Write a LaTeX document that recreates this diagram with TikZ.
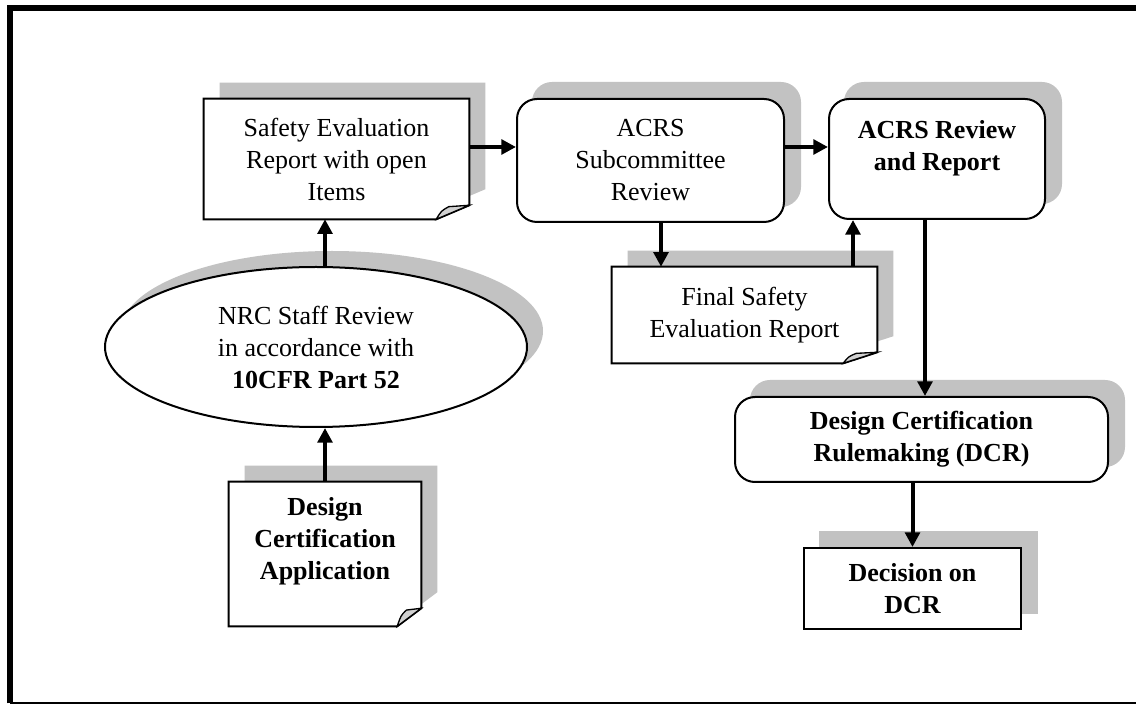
\documentclass[tikz,border=0pt]{standalone}
\usepackage{fontspec}
\setmainfont{Liberation Serif}
\usetikzlibrary{arrows.meta,shapes.geometric,calc}
\pgfdeclarelayer{paper}
\pgfdeclarelayer{shadow}
\pgfdeclarelayer{bg}
\pgfsetlayers{paper,shadow,bg,main}
\definecolor{shadowc}{gray}{0.76}
\definecolor{flapc}{gray}{0.82}
\tikzset{
  shape line/.style={line width=1.5pt},
  docnode/.style={rectangle, draw=none, inner sep=0pt, align=center},
  roundbox/.style={rectangle, rounded corners=15pt, draw, shape line, fill=white, inner sep=0pt, align=center},
  plainbox/.style={rectangle, draw, shape line, fill=white, inner sep=0pt, align=center},
  ovalbox/.style={ellipse, draw, shape line, fill=white, inner sep=0pt, align=center},
  txt/.style={inner sep=0pt, align=center},
  arr/.style={line width=3pt, -{Triangle[length=11pt,width=11pt]}},
}
\newcommand\docshape[3]{%
  \begin{pgfonlayer}{shadow}
    \fill[shadowc] ($(#1.north west)+(16,-16)$) -- ($(#1.north east)+(16,-16)$)
      -- ($(#1.south east)+(16,-16-#3)$) -- ($(#1.south east)+(16-#2,-16)$)
      -- ($(#1.south west)+(16,-16)$) -- cycle;
  \end{pgfonlayer}
  \begin{pgfonlayer}{bg}
    \filldraw[shape line, fill=white, line join=miter] (#1.north west) -- (#1.north east)
      -- ($(#1.south east)+(0,-#3)$) -- ($(#1.south east)+(-#2,0)$)
      -- (#1.south west) -- cycle;
    \filldraw[line width=1pt, fill=flapc] ($(#1.south east)+(-#2,0)$)
      .. controls ($(#1.south east)+(-0.85*#2,-0.6*#3)$) .. ($(#1.south east)+(-0.62*#2,-0.9*#3)$)
      -- ($(#1.south east)+(0,-#3)$) -- cycle;
  \end{pgfonlayer}
}
\newcommand\boxshadow[2]{%
  \begin{pgfonlayer}{shadow}
    \fill[shadowc, #2] ($(#1.south west)+(16,-16)$) rectangle ($(#1.north east)+(16,-16)$);
  \end{pgfonlayer}
}
\begin{document}
\begin{tikzpicture}[x=0.75pt, y=-0.75pt, font=\fontsize{19.5}{24}\selectfont]
\useasboundingbox (0,0) rectangle (1136,705);
\begin{pgfonlayer}{paper}
  \fill[white] (0,0) rectangle (1136,705);
\end{pgfonlayer}
% frame
\draw[line width=4.5pt] (9.5,703.5) -- (9.5,8) -- (1136,8);
\draw[line width=1.5pt] (9.5,703.5) -- (1136,703.5);

% nodes
\node[docnode, minimum width=198.75pt, minimum height=90pt] (ser) at (336.5,159)
  {Safety Evaluation\\Report with open\\Items};
\node[roundbox, minimum width=200.25pt, minimum height=92.25pt] (acrss) at (650.5,160.5)
  {ACRS\\Subcommittee\\Review};
\node[roundbox, minimum width=162pt, minimum height=90pt] (acrsr) at (937,159) {};
\node[txt, font=\fontsize{19.5}{24}\selectfont\bfseries] (acrsrT) at (937,148.5)
  {ACRS Review\\and Report};
\node[docnode, minimum width=198.75pt, minimum height=72pt] (fser) at (744.5,315)
  {Final Safety\\Evaluation Report};
\node[ovalbox, minimum width=316.5pt, minimum height=120pt] (nrc) at (316,347)
  {NRC Staff Review\\in accordance with\\\textbf{10CFR Part 52}};
\node[docnode, minimum width=144pt, minimum height=108pt] (dca) at (325,554) {};
\node[txt, font=\fontsize{19.5}{24}\selectfont\bfseries] (dcaT) at (325,541)
  {Design\\Certification\\Application};
\node[roundbox, minimum width=279.75pt, minimum height=63.75pt,
  font=\fontsize{19.5}{24}\selectfont\bfseries] (dcr) at (921.5,439.5)
  {Design Certification\\Rulemaking (DCR)};
\node[plainbox, minimum width=162.75pt, minimum height=60.75pt,
  font=\fontsize{19.5}{24}\selectfont\bfseries] (dec) at (912.5,588.5)
  {Decision on\\DCR};

% shapes and shadows
\docshape{ser}{33}{14}
\docshape{fser}{34}{11}
\docshape{dca}{24}{18}
\boxshadow{acrss}{rounded corners=15pt}
\boxshadow{acrsr}{rounded corners=15pt}
\boxshadow{dcr}{rounded corners=15pt}
\boxshadow{dec}{}
\begin{pgfonlayer}{shadow}
  \fill[shadowc] ($(nrc.center)+(16,-16)$) ellipse [x radius=211, y radius=80];
\end{pgfonlayer}

% connectors
\draw[arr] (dca.north) -- (dca.north |- nrc.south);
\draw[arr] (nrc.north -| dca.north) -- (ser.south -| dca.north);
\draw[arr] ($(ser.east)+(0,-12)$) coordinate (a1) -- (a1 -| acrss.west);
\draw[arr] ($(acrss.east)+(0,-13.5)$) coordinate (a2) -- (a2 -| acrsr.west);
\draw[arr] ($(acrss.south)+(10.5,0)$) coordinate (a3) -- (a3 |- fser.north);
\draw[arr] ($(fser.north)+(108.5,0)$) coordinate (a4) -- (a4 |- acrsr.south);
\draw[arr] ($(acrsr.south)+(-12,0)$) coordinate (a5) -- (a5 |- dcr.north);
\draw[arr] (dcr.south -| dec.north) -- (dec.north);
\end{tikzpicture}
\end{document}
